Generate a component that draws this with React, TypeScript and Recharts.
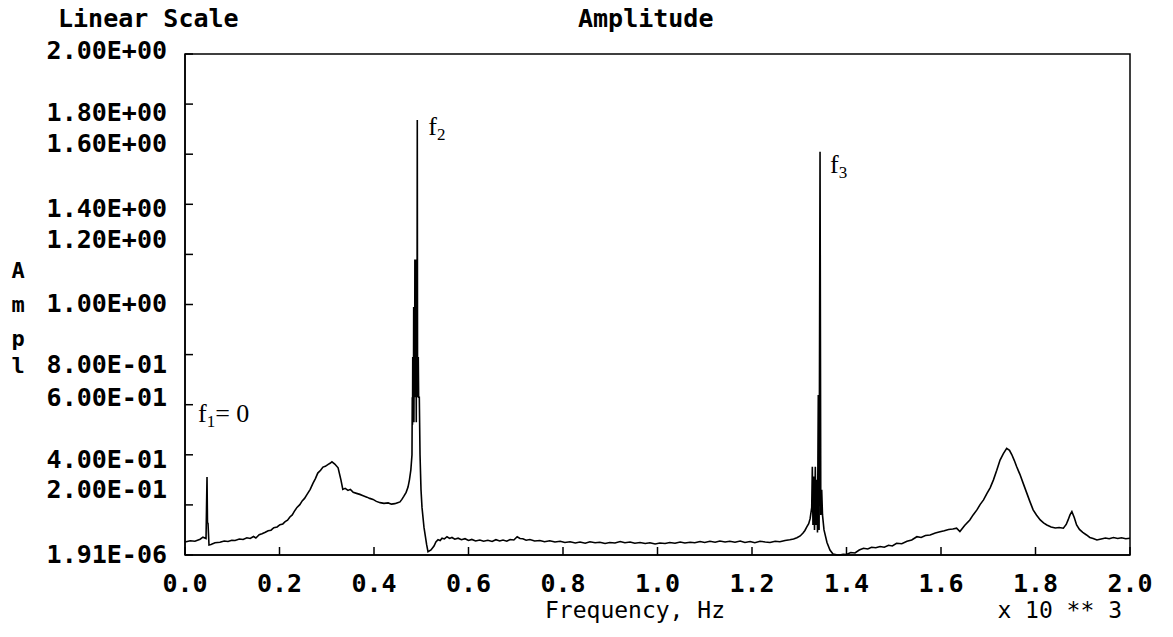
import { LineChart, Line, XAxis, YAxis, ReferenceArea, ReferenceDot } from "recharts";

// spectrum, [frequency (x10^3 Hz), amplitude]
const lowBand: [number, number][] = [
  [0.0, 0.052], [0.011, 0.057], [0.021, 0.055], [0.032, 0.063], [0.038, 0.071], [0.0445, 0.066],
  [0.0466, 0.311], [0.0476, 0.128], [0.0487, 0.126], [0.0508, 0.04], [0.055, 0.042], [0.0635, 0.049],
  [0.074, 0.051], [0.083, 0.056], [0.091, 0.054], [0.099, 0.059], [0.106, 0.058], [0.115, 0.064],
  [0.123, 0.062], [0.131, 0.069], [0.138, 0.066], [0.145, 0.074], [0.15, 0.068], [0.157, 0.081],
  [0.163, 0.085], [0.17, 0.091], [0.176, 0.097], [0.182, 0.099], [0.188, 0.109], [0.195, 0.112],
  [0.201, 0.121], [0.207, 0.124], [0.212, 0.133], [0.217, 0.139], [0.222, 0.152], [0.227, 0.16],
  [0.231, 0.173], [0.237, 0.19], [0.243, 0.201], [0.248, 0.216], [0.253, 0.226], [0.258, 0.241],
  [0.265, 0.262], [0.271, 0.287], [0.276, 0.305], [0.281, 0.327], [0.287, 0.338], [0.292, 0.351],
  [0.297, 0.354], [0.303, 0.362], [0.307, 0.366], [0.311, 0.372], [0.317, 0.363], [0.324, 0.348],
  [0.33, 0.3], [0.334, 0.262], [0.339, 0.266], [0.345, 0.258], [0.35, 0.262], [0.356, 0.25],
  [0.363, 0.246], [0.37, 0.242], [0.377, 0.237], [0.385, 0.231], [0.391, 0.226], [0.398, 0.222],
  [0.405, 0.214], [0.413, 0.209], [0.421, 0.206], [0.43, 0.208], [0.437, 0.203], [0.444, 0.205],
  [0.45, 0.209], [0.455, 0.212], [0.459, 0.222], [0.463, 0.234], [0.468, 0.25], [0.472, 0.271],
  [0.475, 0.3], [0.478, 0.34],
];

const f2Cluster: [number, number][] = [
  [0.4804, 0.4], [0.481, 0.63], [0.4815, 0.52], [0.482, 0.79], [0.4825, 0.63], [0.483, 0.79],
  [0.4835, 0.63], [0.484, 0.99], [0.4845, 0.53], [0.485, 0.79], [0.4855, 0.99], [0.486, 0.63],
  [0.4865, 1.18], [0.487, 0.79], [0.4875, 1.0], [0.488, 0.63], [0.4885, 1.18], [0.489, 0.79],
  [0.4895, 0.53], [0.49, 0.99], [0.4905, 0.63], [0.491, 0.79], [0.4916, 1.737], [0.4922, 0.63],
  [0.4927, 0.79], [0.4932, 0.63], [0.4937, 0.79], [0.4945, 0.63], [0.4959, 0.63], [0.4974, 0.4],
  [0.4995, 0.26], [0.5016, 0.19], [0.5058, 0.11], [0.5115, 0.04], [0.5143, 0.013],
];

const midBand: [number, number][] = [
  [0.5206, 0.02], [0.527, 0.036], [0.531, 0.052], [0.5355, 0.061], [0.54, 0.058], [0.544, 0.067],
  [0.549, 0.064], [0.5545, 0.073], [0.56, 0.066], [0.565, 0.07], [0.571, 0.063], [0.578, 0.067],
  [0.585, 0.061], [0.5926, 0.065], [0.6, 0.058], [0.607, 0.062], [0.615, 0.056], [0.624, 0.06],
  [0.632, 0.055], [0.641, 0.059], [0.65, 0.054], [0.658, 0.061], [0.666, 0.056], [0.673, 0.06],
  [0.681, 0.055], [0.688, 0.062], [0.696, 0.06], [0.703, 0.073], [0.709, 0.066], [0.715, 0.065],
  [0.722, 0.059], [0.73, 0.062], [0.74, 0.056], [0.751, 0.058], [0.761, 0.053], [0.772, 0.057],
  [0.783, 0.052], [0.794, 0.055], [0.804, 0.05], [0.815, 0.053], [0.826, 0.048], [0.836, 0.052],
  [0.847, 0.047], [0.857, 0.053], [0.868, 0.049], [0.878, 0.051], [0.889, 0.046], [0.899, 0.05],
  [0.91, 0.048], [0.921, 0.054], [0.931, 0.049], [0.942, 0.052], [0.952, 0.047], [0.963, 0.05],
  [0.974, 0.046], [0.984, 0.049], [0.995, 0.044], [1.005, 0.048], [1.016, 0.046], [1.026, 0.05],
  [1.037, 0.047], [1.048, 0.052], [1.058, 0.048], [1.069, 0.051], [1.079, 0.049], [1.09, 0.054],
  [1.1, 0.05], [1.111, 0.055], [1.122, 0.051], [1.132, 0.056], [1.143, 0.052], [1.153, 0.055],
  [1.164, 0.051], [1.175, 0.056], [1.185, 0.05], [1.196, 0.054], [1.206, 0.049], [1.217, 0.055],
  [1.228, 0.052], [1.238, 0.05], [1.249, 0.055], [1.259, 0.053], [1.27, 0.058], [1.28, 0.061],
  [1.288, 0.064], [1.295, 0.069], [1.302, 0.076], [1.308, 0.088], [1.312, 0.098], [1.316, 0.112],
  [1.32, 0.125],
];

const f3Cluster: [number, number][] = [
  [1.323, 0.145], [1.3264, 0.19], [1.3277, 0.352], [1.329, 0.12], [1.3306, 0.313], [1.3323, 0.1],
  [1.334, 0.352], [1.3355, 0.12], [1.337, 0.3], [1.3386, 0.09], [1.3403, 0.639], [1.342, 0.1],
  [1.344, 1.61], [1.3456, 0.16], [1.3475, 0.26], [1.3492, 0.16], [1.3524, 0.1], [1.3587, 0.05],
  [1.365, 0.02], [1.3714, 0.004],
];

const highBand: [number, number][] = [
  [1.379, 0.001], [1.386, 0.0], [1.393, 0.003], [1.4, 0.002], [1.409, 0.01], [1.418, 0.008],
  [1.427, 0.02], [1.436, 0.027], [1.445, 0.024], [1.453, 0.031], [1.462, 0.029], [1.471, 0.034],
  [1.48, 0.031], [1.489, 0.039], [1.497, 0.036], [1.506, 0.047], [1.517, 0.045], [1.528, 0.055],
  [1.538, 0.06], [1.549, 0.073], [1.558, 0.07], [1.567, 0.078], [1.577, 0.08], [1.588, 0.088],
  [1.598, 0.093], [1.607, 0.097], [1.616, 0.102], [1.625, 0.104], [1.633, 0.107], [1.64, 0.094],
  [1.65, 0.118], [1.661, 0.14], [1.668, 0.16], [1.676, 0.18], [1.683, 0.202], [1.69, 0.22],
  [1.697, 0.245], [1.704, 0.268], [1.711, 0.3], [1.718, 0.338], [1.725, 0.379], [1.732, 0.405],
  [1.739, 0.426], [1.745, 0.418], [1.75, 0.4], [1.755, 0.378], [1.76, 0.353], [1.767, 0.322],
  [1.774, 0.286], [1.781, 0.25], [1.788, 0.214], [1.795, 0.18], [1.802, 0.16], [1.81, 0.14],
  [1.817, 0.128], [1.824, 0.12], [1.833, 0.112], [1.842, 0.108], [1.85, 0.11], [1.859, 0.107],
  [1.865, 0.122], [1.869, 0.14], [1.873, 0.16], [1.877, 0.173], [1.882, 0.15], [1.887, 0.12],
  [1.893, 0.102], [1.9, 0.09], [1.908, 0.08], [1.915, 0.07], [1.922, 0.066], [1.93, 0.06],
  [1.939, 0.064], [1.948, 0.068], [1.956, 0.065], [1.965, 0.07], [1.974, 0.066], [1.982, 0.069],
  [1.991, 0.065], [2.0, 0.067],
];

const xTicks = [0, 0.2, 0.4, 0.6, 0.8, 1.0, 1.2, 1.4, 1.6, 1.8, 2.0];
const xTickLabels = ["0.0", "0.2", "0.4", "0.6", "0.8", "1.0", "1.2", "1.4", "1.6", "1.8", "2.0"];
const yTicks = [0, 0.2, 0.4, 0.6, 0.8, 1.0, 1.2, 1.4, 1.6, 1.8, 2.0];
const yTickLabels = [
  "1.91E-06", "2.00E-01", "4.00E-01", "6.00E-01", "8.00E-01", "1.00E+00",
  "1.20E+00", "1.40E+00", "1.60E+00", "1.80E+00", "2.00E+00",
];
// the old plotter put the y labels slightly off their ticks
const yLabelNudge = [-1, -16, 4, -8, 10, -1, -15, 4, -11, 8, -4];

const peaks = [
  { sub: "1", f: 0.0466, after: "= 0", dx: -9, dy: -55 },
  { sub: "2", f: 0.4916, after: "", dx: 11, dy: 15 },
  { sub: "3", f: 1.344, after: "", dx: 10, dy: 21 },
];

const spectrum = [...lowBand, ...f2Cluster, ...midBand, ...f3Cluster, ...highBand].map(([f, a]) => ({ f, a }));

const mono = { fontFamily: "'DejaVu Sans Mono', monospace", fontSize: 25, fontWeight: 700, fill: "#000" };
const serif = { fontFamily: "'Liberation Serif', serif", fontSize: 26, fill: "#000" };
const letter = { ...mono, fontSize: 22 };
const caption = { ...mono, fontSize: 23, fontWeight: 400 };

function YTick(props: any) {
  const { x, y, payload } = props;
  const i = yTicks.indexOf(payload.value);
  return (
    <text x={x} y={y + yLabelNudge[i]} dy="0.355em" textAnchor="end" style={mono}>
      {yTickLabels[i]}
    </text>
  );
}

function XTick(props: any) {
  const { x, y, payload } = props;
  const i = xTicks.indexOf(payload.value);
  return (
    <text x={x} y={y} dy="0.71em" textAnchor="middle" style={mono}>
      {xTickLabels[i]}
    </text>
  );
}

function peakLabel(p: (typeof peaks)[number]) {
  return (props: any) => (
    <text x={props.cx + p.dx} y={props.cy + p.dy} style={serif}>
      f
      <tspan fontSize={17} dy={5}>{p.sub}</tspan>
      <tspan dy={-5}>{p.after}</tspan>
    </text>
  );
}

export default function App() {
  return (
    <div style={{ position: "relative", width: 1173, height: 637, margin: -8, overflow: "hidden", background: "#fff" }}>
      <LineChart width={1173} height={637} data={spectrum} margin={{ top: 54, right: 43, bottom: 52, left: 15 }}>
        <XAxis
          dataKey="f"
          type="number"
          domain={[0, 2]}
          ticks={xTicks}
          interval={0}
          height={30}
          tickSize={-8}
          tickMargin={27}
          axisLine={{ stroke: "#000", strokeWidth: 1.5 }}
          tickLine={{ stroke: "#000", strokeWidth: 1.5 }}
          tick={<XTick />}
        />
        <YAxis
          type="number"
          domain={[0, 2]}
          ticks={yTicks}
          interval={0}
          width={170}
          tickSize={-8}
          tickMargin={26}
          axisLine={{ stroke: "#000", strokeWidth: 1.5 }}
          tickLine={{ stroke: "#000", strokeWidth: 1.5 }}
          tick={<YTick />}
        />
        <ReferenceArea x1={0} x2={2} y1={0} y2={2} fill="none" stroke="#000" strokeWidth={1.5} />
        <Line
          type="linear"
          dataKey="a"
          stroke="#000"
          strokeWidth={1.6}
          dot={false}
          isAnimationActive={false}
        />
        {peaks.map((p) => (
          <ReferenceDot
            key={p.sub}
            x={p.f}
            y={spectrum.find((d) => d.f === p.f)!.a}
            r={0}
            shape={peakLabel(p)}
          />
        ))}
      </LineChart>
      <svg width={1173} height={637} style={{ position: "absolute", left: 0, top: 0, pointerEvents: "none" }}>
        <text x={58} y={27} style={mono}>Linear Scale</text>
        <text x={578} y={27} style={mono}>Amplitude</text>
        <text x={18} y={278} textAnchor="middle" style={letter}>A</text>
        <text x={18} y={312} textAnchor="middle" style={letter}>m</text>
        <text x={18} y={346} textAnchor="middle" style={letter}>p</text>
        <text x={18} y={373} textAnchor="middle" style={letter}>l</text>
        <text x={545} y={618} style={caption}>Frequency, Hz</text>
        <text x={1122} y={618} textAnchor="end" style={caption}>x 10 ** 3</text>
      </svg>
    </div>
  );
}
